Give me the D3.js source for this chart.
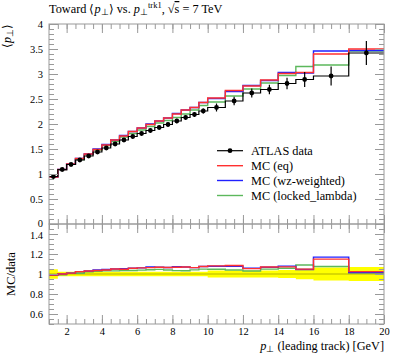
<!DOCTYPE html>
<html><head><meta charset="utf-8">
<script src="https://cdn.jsdelivr.net/npm/d3@7"></script>
<style>
body{margin:0;background:#fff}
text{font-family:"Liberation Serif","Times New Roman",serif;fill:#000}
</style>
</head><body>
<svg id="c" width="397" height="358"></svg>
<script>
// ---------------- data ----------------
const binEdges = [1,1.5,2,2.5,3,3.5,4,4.5,5,5.5,6,6.5,7,7.5,8,8.5,9,9.5,10,11,12,13,14,15,16,18,20];
const dataVals = [0.95,1.09,1.19,1.28,1.36,1.44,1.52,1.60,1.68,1.75,1.81,1.87,1.93,1.99,2.06,2.13,2.19,2.26,2.33,2.46,2.62,2.69,2.81,2.89,2.96,3.42];
const dataErrs = [0.045,0.025,0.026,0.028,0.030,0.032,0.033,0.035,0.037,0.038,0.040,0.041,0.042,0.044,0.045,0.047,0.048,0.050,0.080,0.085,0.090,0.095,0.115,0.150,0.190,0.240];
const mcEq     = [0.94,1.09,1.20,1.31,1.40,1.49,1.58,1.68,1.76,1.85,1.92,1.99,2.06,2.12,2.20,2.28,2.33,2.43,2.52,2.67,2.76,2.88,3.01,3.03,3.40,3.50];
const mcWz     = [0.94,1.09,1.20,1.31,1.40,1.50,1.59,1.68,1.77,1.85,1.92,2.00,2.06,2.12,2.21,2.28,2.33,2.43,2.51,2.65,2.77,2.87,3.03,3.02,3.46,3.47];
const mcLocked = [0.94,1.08,1.20,1.29,1.39,1.48,1.57,1.65,1.74,1.81,1.88,1.95,2.02,2.07,2.13,2.20,2.28,2.37,2.44,2.56,2.70,2.82,2.97,3.15,3.18,3.46];
const seriesNames = ["ATLAS data","MC (eq)","MC (wz-weighted)","MC (locked_lambda)"];
const seriesColors = ["#000000","#ff3030","#2020ff","#5cb85c"];
const xTickLabels = [2,4,6,8,10,12,14,16,18,20];
const mainYTicks = [0,0.5,1,1.5,2,2.5,3,3.5,4];
const ratioYTicks = [0.6,0.8,1,1.2,1.4];

// ---------------- layout ----------------
const L = 49, R = 384, T = 24, M = 224, B = 324;
const svg = d3.select("#c");
const x = d3.scaleLinear().domain([1,20]).range([L,R]);
const y = d3.scaleLinear().domain([0,4]).range([M,T]);
const yr = d3.scaleLinear().domain([0.5,1.5]).range([B,M]);

const frameColor = "#999";
const xMinor = d3.range(1,20.001,0.5);
const yMinor = d3.range(0,4.001,0.1);
const yrMinor = d3.range(0.5,1.5001,0.05);

function axisG(axis, tx, ty){
  const g = svg.append("g").attr("transform",`translate(${tx},${ty})`).call(axis);
  g.select(".domain").remove();
  g.selectAll("line").attr("stroke",frameColor);
  g.selectAll("text").attr("font-size",10.5).attr("font-family","Liberation Serif");
  return g;
}
const defs = svg.append("defs");
defs.append("clipPath").attr("id","cm").append("rect").attr("x",L).attr("y",T).attr("width",R-L).attr("height",M-T);
defs.append("clipPath").attr("id","cr").append("rect").attr("x",L).attr("y",M).attr("width",R-L).attr("height",B-M);

// ---------------- ratio panel ----------------
const gR = svg.append("g").attr("clip-path","url(#cr)");
const stepPts = vals => binEdges.map((e,i)=>[e, vals[Math.min(i, vals.length-1)]]);
const bandPts = binEdges.map((e,i)=>{const k=Math.min(i,dataVals.length-1); return [e, 1-dataErrs[k]/dataVals[k], 1+dataErrs[k]/dataVals[k]];});
gR.append("path").datum(bandPts)
  .attr("d", d3.area().curve(d3.curveStepAfter).x(d=>x(d[0])).y0(d=>yr(d[1])).y1(d=>yr(d[2])))
  .attr("fill","#ffff00").attr("stroke","none");
gR.append("line").attr("x1",L).attr("x2",R).attr("y1",yr(1)).attr("y2",yr(1))
  .attr("stroke","#000").attr("stroke-opacity",0.3).attr("stroke-width",1);
const ratioLine = d3.line().curve(d3.curveStepAfter).x(d=>x(d[0])).y(d=>yr(d[1]));
[[mcLocked,3],[mcWz,2],[mcEq,1]].forEach(([vals,ci])=>{
  const r = vals.map((v,i)=>v/dataVals[i]);
  gR.append("path").datum(stepPts(r)).attr("d",ratioLine)
    .attr("fill","none").attr("stroke",seriesColors[ci]).attr("stroke-width",1.4);
});

// ---------------- main panel ----------------
const gM = svg.append("g").attr("clip-path","url(#cm)");
const mainLine = d3.line().curve(d3.curveStepAfter).x(d=>x(d[0])).y(d=>y(d[1]));
[[mcLocked,3],[mcWz,2],[mcEq,1]].forEach(([vals,ci])=>{
  gM.append("path").datum(stepPts(vals)).attr("d",mainLine)
    .attr("fill","none").attr("stroke",seriesColors[ci]).attr("stroke-width",1.4);
});
gM.append("path").datum(stepPts(dataVals)).attr("d",mainLine)
  .attr("fill","none").attr("stroke","#000").attr("stroke-width",1.2);
const centers = dataVals.map((v,i)=>(binEdges[i]+binEdges[i+1])/2);
gM.selectAll("line.err").data(dataVals).join("line").attr("class","err")
  .attr("x1",(d,i)=>x(centers[i])).attr("x2",(d,i)=>x(centers[i]))
  .attr("y1",(d,i)=>y(d-dataErrs[i])).attr("y2",(d,i)=>y(d+dataErrs[i]))
  .attr("stroke","#000").attr("stroke-width",1.2);
gM.selectAll("circle.pt").data(dataVals).join("circle").attr("class","pt")
  .attr("cx",(d,i)=>x(centers[i])).attr("cy",d=>y(d)).attr("r",2.4).attr("fill","#000");

// ---------------- frames & ticks ----------------
svg.append("rect").attr("x",L).attr("y",T).attr("width",R-L).attr("height",M-T)
  .attr("fill","none").attr("stroke",frameColor);
svg.append("rect").attr("x",L).attr("y",M).attr("width",R-L).attr("height",B-M)
  .attr("fill","none").attr("stroke",frameColor);
const major = 9, minor = 5;
const fmtMain = d=> d3.format("~g")(d);
const gYm = axisG(d3.axisLeft(y).tickValues(mainYTicks).tickSize(-major).tickPadding(6).tickFormat(fmtMain), L, 0);
gYm.selectAll("text").filter(d=>d===0).attr("dy","0.2em");
axisG(d3.axisLeft(y).tickValues(yMinor).tickSize(-minor).tickFormat(""), L, 0);
axisG(d3.axisRight(y).tickValues(mainYTicks).tickSize(-major).tickFormat(""), R, 0);
axisG(d3.axisRight(y).tickValues(yMinor).tickSize(-minor).tickFormat(""), R, 0);
axisG(d3.axisTop(x).tickValues(xTickLabels).tickSize(-major).tickFormat(""), 0, T);
axisG(d3.axisTop(x).tickValues(xMinor).tickSize(-minor).tickFormat(""), 0, T);
axisG(d3.axisBottom(x).tickValues(xTickLabels).tickSize(-major).tickFormat(""), 0, M);
axisG(d3.axisBottom(x).tickValues(xMinor).tickSize(-minor).tickFormat(""), 0, M);
const gYr = axisG(d3.axisLeft(yr).tickValues(ratioYTicks).tickSize(-major).tickPadding(6).tickFormat(fmtMain), L, 0);
gYr.selectAll("text").filter(d=>d===1.4).attr("dy","0.42em");
axisG(d3.axisLeft(yr).tickValues(yrMinor).tickSize(-minor).tickFormat(""), L, 0);
axisG(d3.axisRight(yr).tickValues(ratioYTicks).tickSize(-major).tickFormat(""), R, 0);
axisG(d3.axisRight(yr).tickValues(yrMinor).tickSize(-minor).tickFormat(""), R, 0);
axisG(d3.axisTop(x).tickValues(xTickLabels).tickSize(-major).tickFormat(""), 0, M);
axisG(d3.axisTop(x).tickValues(xMinor).tickSize(-minor).tickFormat(""), 0, M);
axisG(d3.axisBottom(x).tickValues(xTickLabels).tickSize(-major).tickPadding(4).tickFormat(d3.format("d")), 0, B);
axisG(d3.axisBottom(x).tickValues(xMinor).tickSize(-minor).tickFormat(""), 0, B);

// ---------------- texts ----------------
const title = svg.append("text").attr("x",L).attr("y",13).attr("font-size",12.3);
title.append("tspan").text("Toward ⟨");
title.append("tspan").attr("font-style","italic").text("p");
title.append("tspan").attr("font-size",8.5).attr("dy",2).text("⊥");
title.append("tspan").attr("dy",-2).text("⟩ vs. ");
title.append("tspan").attr("font-style","italic").text("p");
title.append("tspan").attr("font-size",8.5).attr("dy",2).text("⊥");
title.append("tspan").attr("font-size",8.5).attr("dy",-7).text("trk1");
title.append("tspan").attr("dy",5).text(", √");
title.append("tspan").attr("text-decoration","overline").text("s");
title.append("tspan").text(" = 7 TeV");

const yl = svg.append("text").attr("transform",`translate(11,${T}) rotate(-90)`)
  .attr("text-anchor","end").attr("font-size",12);
yl.append("tspan").text("⟨");
yl.append("tspan").attr("font-style","italic").text("p");
yl.append("tspan").attr("font-size",8.5).attr("dy",2).text("⊥");
yl.append("tspan").attr("dy",-2).text("⟩");

svg.append("text").attr("transform",`translate(15,${yr(1)}) rotate(-90)`)
  .attr("text-anchor","middle").attr("font-size",12.5).text("MC/data");

const xl = svg.append("text").attr("x",R).attr("y",350).attr("text-anchor","end").attr("font-size",12.3);
xl.append("tspan").attr("font-style","italic").text("p");
xl.append("tspan").attr("font-size",8.5).attr("dy",2).text("⊥");
xl.append("tspan").attr("dy",-2).text(" (leading track) [GeV]");

// ---------------- legend ----------------
const legY = [150.7,165.7,180.5,195.5];
const lg = svg.append("g");
seriesNames.forEach((name,i)=>{
  lg.append("line").attr("x1",217).attr("x2",243).attr("y1",legY[i]).attr("y2",legY[i])
    .attr("stroke",seriesColors[i]).attr("stroke-width",i===0?1.2:1.4);
  if(i===0) lg.append("circle").attr("cx",230).attr("cy",legY[i]).attr("r",2.4).attr("fill","#000");
  lg.append("text").attr("x",251).attr("y",legY[i]+4).attr("font-size",12.3).text(name);
});
</script>
</body></html>
